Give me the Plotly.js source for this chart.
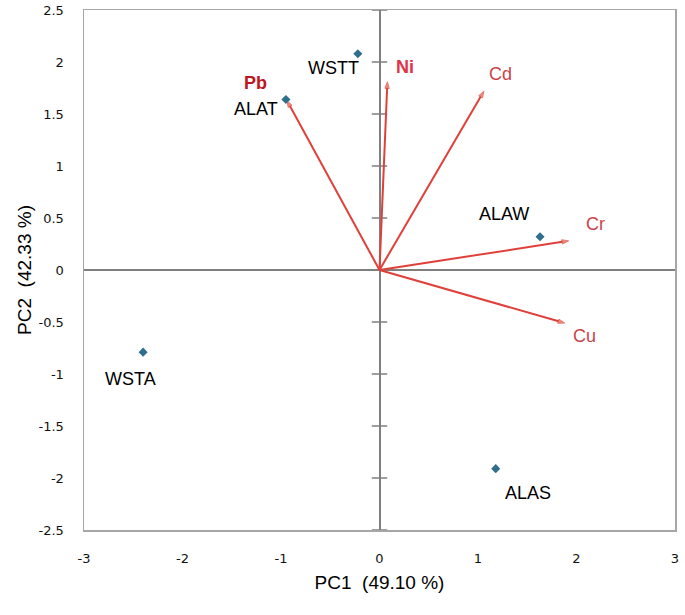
<!DOCTYPE html>
<html>
<head>
<meta charset="utf-8">
<script src="https://cdn.plot.ly/plotly-3.0.1.min.js"></script>
<style>
  html, body { margin: 0; padding: 0; background: #fff; }
  #chart { width: 685px; height: 615px; }
</style>
</head>
<body>
<div id="chart"></div>
<script>
// samples (PC scores)
const sampleNames = ['WSTT', 'ALAT', 'ALAW', 'WSTA', 'ALAS'];
const sampleX = [-0.22, -0.95, 1.63, -2.40, 1.18];
const sampleY = [2.08, 1.64, 0.32, -0.79, -1.91];

// metals (loadings)
const metalNames = ['Pb', 'Ni', 'Cd', 'Cr', 'Cu'];
const metalX = [-0.94, 0.08, 1.06, 1.92, 1.88];
const metalY = [1.63, 1.81, 1.72, 0.28, -0.51];

// axis ticks
const xTickVals = [-3, -2, -1, 0, 1, 2, 3];
const xTickText = ['-3', '-2', '-1', '0', '1', '2', '3'];
const yTickVals = [-2.5, -2, -1.5, -1, -0.5, 0, 0.5, 1, 1.5, 2, 2.5];
const yTickText = ['-2.5', '-2', '-1.5', '-1', '-0.5', '0', '0.5', '1', '1.5', '2', '2.5'];

// label offsets in px (style only)
const sampleShift = {
  WSTT: [-24, -14], ALAT: [-30, -10], ALAW: [-36, 23], WSTA: [-13, -27], ALAS: [32, -24]
};
const metalShift = {
  Pb: [-31, 17], Ni: [18, 15], Cd: [17, 17], Cr: [27, 17], Cu: [20, -13]
};

const traces = [];

// cross ticks on the vertical zero line
const crossY = yTickVals.filter(v => v !== 0);
traces.push({
  x: crossY.map(() => 0),
  y: crossY,
  mode: 'markers',
  type: 'scatter',
  hoverinfo: 'skip',
  marker: { symbol: 'line-ew', size: 11, line: { color: '#7f7f7f', width: 1.5 } }
});

// vectors
metalNames.forEach((m, i) => {
  traces.push({
    x: [0, metalX[i]],
    y: [0, metalY[i]],
    mode: 'lines+markers',
    type: 'scatter',
    name: m,
    line: { color: '#e0403a', width: 2 },
    marker: { symbol: ['circle', 'arrow'], size: [0, 7], angleref: 'previous', color: '#e4563a' }
  });
});

// samples
traces.push({
  x: sampleX,
  y: sampleY,
  text: sampleNames,
  mode: 'markers',
  type: 'scatter',
  hoverinfo: 'text',
  marker: { symbol: 'diamond', size: 7, color: '#2f6e8c' }
});

const annotations = [];
sampleNames.forEach((s, i) => {
  annotations.push({
    x: sampleX[i], y: sampleY[i], text: s, showarrow: false,
    xshift: sampleShift[s][0], yshift: sampleShift[s][1],
    font: { family: 'Liberation Sans, Arial, sans-serif', size: 18, color: '#000' }
  });
});
metalNames.forEach((m, i) => {
  const bold = m === 'Pb' || m === 'Ni';
  annotations.push({
    x: metalX[i], y: metalY[i], text: bold ? '<b>' + m + '</b>' : m, showarrow: false,
    xshift: metalShift[m][0], yshift: metalShift[m][1],
    font: { family: 'Liberation Sans, Arial, sans-serif', size: 18,
            color: m === 'Pb' ? '#c0141e' : (m === 'Ni' ? '#e0344a' : '#c8444a') }
  });
});

const axisCommon = {
  showgrid: false,
  zeroline: true,
  zerolinecolor: '#7f7f7f',
  zerolinewidth: 2,
  showline: true,
  mirror: true,
  linecolor: '#a6a6a6',
  linewidth: 1.5,
  ticks: 'outside',
  tickmode: 'array',
  tickcolor: 'rgba(0,0,0,0)',
  tickfont: { family: 'DejaVu Sans, Tahoma, sans-serif', size: 13, color: '#111' }
};

const layout = {
  width: 685,
  height: 615,
  margin: { l: 84, r: 10, t: 10, b: 85 },
  paper_bgcolor: '#fff',
  plot_bgcolor: '#fff',
  showlegend: false,
  xaxis: Object.assign({}, axisCommon, {
    range: [-3, 3], tickvals: xTickVals, ticktext: xTickText, ticklen: 16,
    title: { text: 'PC1\u00a0 (49.10 %)', standoff: 10,
             font: { family: 'Liberation Sans, Arial, sans-serif', size: 19, color: '#000' } }
  }),
  yaxis: Object.assign({}, axisCommon, {
    range: [-2.5, 2.5], tickvals: yTickVals, ticktext: yTickText, ticklen: 16,
    title: { text: 'PC2\u00a0 (42.33 %)', standoff: 2,
             font: { family: 'Liberation Sans, Arial, sans-serif', size: 19, color: '#000' } }
  }),
  annotations: annotations
};

Plotly.newPlot('chart', traces, layout, { displayModeBar: false, staticPlot: true });
</script>
</body>
</html>
